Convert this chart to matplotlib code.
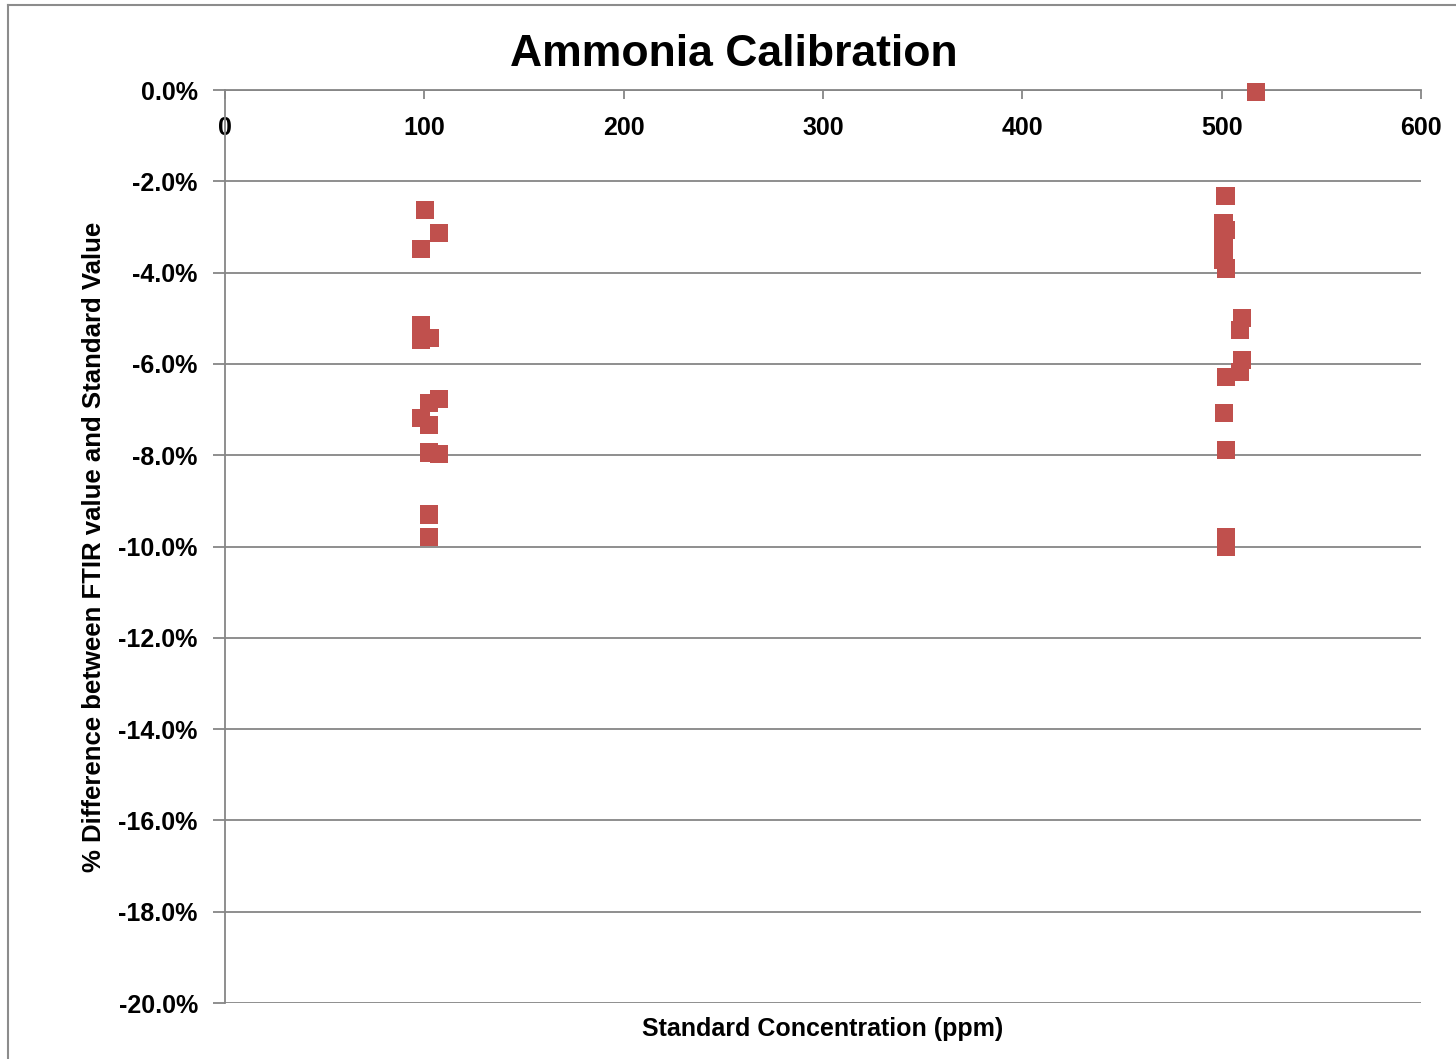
import numpy as np
import matplotlib.pyplot as plt
from matplotlib.ticker import FuncFormatter
from matplotlib.lines import Line2D

# Standard concentration (ppm) and % difference FTIR vs standard
conc_100 = [100.2, 107.5, 98.5, 98.5, 98.5, 102.9, 107.5, 102.5, 98.5,
            102.5, 102.5, 107.5, 102.5, 102.5]
diff_100 = [-2.63, -3.13, -3.48, -5.16, -5.48, -5.44, -6.77, -6.86, -7.19,
            -7.34, -7.94, -7.97, -9.30, -9.79]

conc_500 = [517.2, 501.9, 500.9, 502.0, 500.9, 500.9, 500.9, 502.0, 510.3,
            509.3, 510.3, 509.3, 502.0, 501.0, 502.0, 502.0, 502.0]
diff_500 = [-0.04, -2.32, -2.92, -3.07, -3.29, -3.50, -3.72, -3.91, -5.00,
            -5.26, -5.91, -6.17, -6.28, -7.08, -7.89, -9.79, -10.00]

x_ticks = [0, 100, 200, 300, 400, 500, 600]
y_ticks = [0, -2, -4, -6, -8, -10, -12, -14, -16, -18, -20]

plt.rcParams['font.family'] = ['Liberation Sans', 'DejaVu Sans']
plt.rcParams['font.weight'] = 'bold'

W, H = 1456, 1059
fig = plt.figure(figsize=(W / 100, H / 100), dpi=100)
ax = fig.add_axes([225 / W, (H - 1003) / H, 1196 / W, 913 / H])

grid_col = '#868686'
red = '#C0504D'

xs = np.array(conc_100 + conc_500)
ys = np.array(diff_100 + diff_500)
ax.scatter(xs, ys, marker='s', s=170, color=red, edgecolors='none',
           zorder=3, clip_on=False)

ax.set_xlim(0, 600)
ax.set_ylim(-20, 0)
ax.set_xticks(x_ticks)
ax.set_yticks(y_ticks)
ax.yaxis.set_major_formatter(FuncFormatter(lambda v, p: f'{v:.1f}%'))

ax.grid(axis='y', color=grid_col, linewidth=1.3)
ax.set_axisbelow(True)

for s in ['top', 'right']:
    ax.spines[s].set_visible(False)
# x axis crosses at y = 0 (top of plot), labels hang below it
ax.spines['bottom'].set_position(('data', 0))
ax.spines['bottom'].set_color(grid_col)
ax.spines['bottom'].set_linewidth(1.3)
ax.spines['left'].set_color(grid_col)
ax.spines['left'].set_linewidth(1.3)

ax.tick_params(axis='x', direction='out', length=6.5, width=1.3,
               color=grid_col, pad=12, labelsize=18)
ax.tick_params(axis='y', direction='out', length=8.6, width=1.3,
               color=grid_col, pad=11, labelsize=18)

fig.text(734 / W, 1 - 55 / H, 'Ammonia Calibration', fontsize=32,
         fontweight='bold', ha='center', va='center')
ax.set_xlabel('Standard Concentration (ppm)', fontsize=18, fontweight='bold')
ax.xaxis.set_label_coords(0.5, -0.015)
ax.set_ylabel('% Difference between FTIR value and Standard Value',
              fontsize=18.5, fontweight='bold', labelpad=9)

# outer chart frame (left and top edges visible)
fig.add_artist(Line2D([7.5 / W, 7.5 / W], [0, 1 - 4.5 / H], color='#8c8c8c',
                      linewidth=1.5, transform=fig.transFigure))
fig.add_artist(Line2D([7.5 / W, 1], [1 - 4.5 / H, 1 - 4.5 / H],
                      color='#8c8c8c', linewidth=1.5,
                      transform=fig.transFigure))

fig.savefig('out.png', dpi=100)
